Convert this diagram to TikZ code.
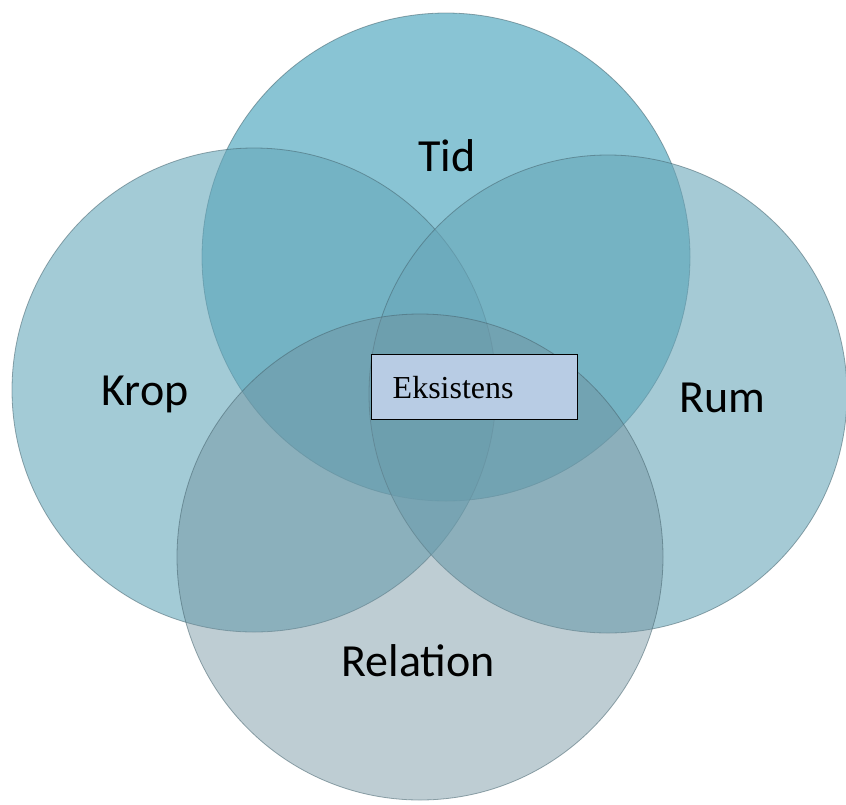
\documentclass[tikz,border=0pt]{standalone}
\usepackage{fontspec}
\setmainfont{Liberation Serif}
\newfontfamily\labelfont{Carlito}
\definecolor{tidc}{RGB}{58,157,183}
\definecolor{kropc}{RGB}{102,168,187}
\definecolor{rumc}{RGB}{105,167,185}
\definecolor{relc}{RGB}{111,144,157}
\definecolor{edgec}{RGB}{70,100,110}
\definecolor{boxc}{RGB}{184,204,228}
\begin{document}
\begin{tikzpicture}[x=1pt,y=-1pt,
  venn/.style={circle, minimum size=#1, inner sep=0pt, draw=edgec, line width=0.8pt, draw opacity=0.55},
  lbl/.style={font=\labelfont\fontsize{46}{55}\selectfont, text=black, anchor=base, inner sep=0pt},
  eksbox/.style={draw=black, line width=1.4pt, fill=boxc, minimum width=206pt, minimum height=65pt,
    text width=164pt, inner xsep=21pt, inner ysep=0pt, align=left,
    font=\fontsize{32}{38}\selectfont, anchor=north west}]
\useasboundingbox (0,0) rectangle (846,804);
\node[venn=488pt, fill=tidc, fill opacity=0.6] (tid) at (446,257) {};
\node[venn=484pt, fill=kropc, fill opacity=0.6] (krop) at (254,390) {};
\node[venn=478pt, fill=rumc, fill opacity=0.6] (rum) at (608,394) {};
\node[venn=486pt, fill=relc, fill opacity=0.45] (rel) at (420,557) {};
\node[lbl] (tidl) at (447,171) {Tid};
\node[lbl] (kropl) at (145,405) {Krop};
\node[lbl] (rumll) at (722,412) {Rum};
\node[lbl] (rell) at (418,676) {Relation};
\node[eksbox] (eks) at (371,354) {Eksistens};
\end{tikzpicture}
\end{document}
